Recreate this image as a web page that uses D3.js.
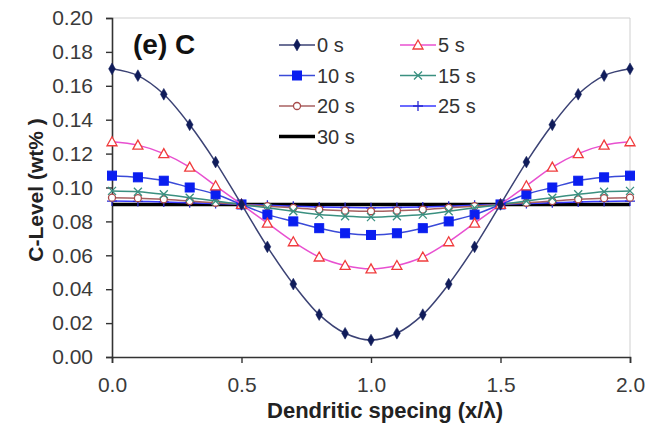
<!DOCTYPE html>
<html>
<head>
<meta charset="utf-8">
<script src="https://cdn.jsdelivr.net/npm/d3@7"></script>
<style>
  body { margin: 0; background: #fff; }
  svg { display: block; font-family: Arial, "Liberation Sans", sans-serif; }
</style>
</head>
<body>
<div id="chart"></div>
<script>
// data
const xValues = [0.0, 0.1, 0.2, 0.3, 0.4, 0.5, 0.6, 0.7, 0.8, 0.9, 1.0,
                 1.1, 1.2, 1.3, 1.4, 1.5, 1.6, 1.7, 1.8, 1.9, 2.0];
const s0  = [0.170, 0.166, 0.155, 0.137, 0.115, 0.090, 0.065, 0.043, 0.025, 0.014, 0.010,
             0.014, 0.025, 0.043, 0.065, 0.090, 0.115, 0.137, 0.155, 0.166, 0.170];
const s5  = [0.127, 0.125, 0.120, 0.112, 0.101, 0.090, 0.079, 0.068, 0.059, 0.054, 0.052,
             0.054, 0.059, 0.068, 0.079, 0.090, 0.101, 0.112, 0.120, 0.125, 0.127];
const s10 = [0.107, 0.106, 0.104, 0.100, 0.096, 0.090, 0.084, 0.080, 0.076, 0.073, 0.072,
             0.073, 0.076, 0.080, 0.084, 0.090, 0.096, 0.100, 0.104, 0.106, 0.107];
const s15 = [0.098, 0.0975, 0.096, 0.094, 0.092, 0.090, 0.088, 0.086, 0.084, 0.083, 0.0825,
             0.083, 0.084, 0.086, 0.088, 0.090, 0.092, 0.094, 0.096, 0.0975, 0.098];
const s20 = [0.094, 0.0937, 0.093, 0.092, 0.091, 0.090, 0.089, 0.088, 0.087, 0.0863, 0.086,
             0.0863, 0.087, 0.088, 0.089, 0.090, 0.091, 0.092, 0.093, 0.0937, 0.094];
const s25 = [0.092, 0.0918, 0.0915, 0.091, 0.0905, 0.090, 0.0895, 0.089, 0.0885, 0.0882, 0.088,
             0.0882, 0.0885, 0.089, 0.0895, 0.090, 0.0905, 0.091, 0.0915, 0.0918, 0.092];
const s30 = [0.090, 0.090, 0.090, 0.090, 0.090, 0.090, 0.090, 0.090, 0.090, 0.090, 0.090,
             0.090, 0.090, 0.090, 0.090, 0.090, 0.090, 0.090, 0.090, 0.090, 0.090];

const seriesNames = ["0 s", "5 s", "10 s", "15 s", "20 s", "25 s", "30 s"];
const seriesValues = [s0, s5, s10, s15, s20, s25, s30];

const xTicks = [0, 0.5, 1.0, 1.5, 2.0];
const yTicks = [0, 0.02, 0.04, 0.06, 0.08, 0.10, 0.12, 0.14, 0.16, 0.18, 0.20];

// styling per series (marker type, colours)
const styles = [
  { line: "#3b4274", marker: "diamond",  fill: "#101c5a", stroke: "#101c5a", width: 1.5 },
  { line: "#e850d0", marker: "triangle", fill: "#fff",    stroke: "#f03c3c", width: 1.5 },
  { line: "#3a4ad8", marker: "square",   fill: "#0a1ef0", stroke: "#0a1ef0", width: 1.5 },
  { line: "#3a9080", marker: "cross",    fill: "none",    stroke: "#3a9080", width: 1.5 },
  { line: "#a86060", marker: "circle",   fill: "#fff",    stroke: "#a84a4a", width: 1.5 },
  { line: "#3a3aff", marker: "plus",     fill: "none",    stroke: "#2a2ad0", width: 1.5 },
  { line: "#000",    marker: null,       fill: "none",    stroke: "#000",    width: 3.5 }
];

const W = 656, H = 429;
const margin = { top: 18, right: 26, bottom: 72, left: 112 };
const width = W - margin.left - margin.right;
const height = H - margin.top - margin.bottom;

const svg = d3.select("#chart").append("svg")
    .attr("width", W)
    .attr("height", H);

const g = svg.append("g")
    .attr("transform", `translate(${margin.left},${margin.top})`);

const x = d3.scaleLinear().domain([0, 2]).range([0, width]);
const y = d3.scaleLinear().domain([0, 0.2]).range([height, 0]);

// light plot-area frame (top and right)
g.append("path")
    .attr("d", `M0,0H${width}V${height}`)
    .attr("fill", "none")
    .attr("stroke", "#cfcfcf")
    .attr("stroke-width", 1);

// axes
const xAxis = g.append("g")
    .attr("transform", `translate(0,${height})`)
    .call(d3.axisBottom(x).tickValues(xTicks).tickFormat(d3.format(".1f")).tickSizeOuter(0).tickSize(6));
const yAxis = g.append("g")
    .call(d3.axisLeft(y).tickValues(yTicks).tickFormat(d3.format(".2f")).tickSizeOuter(0).tickSize(6));

[xAxis, yAxis].forEach(a => {
  a.select(".domain").attr("stroke", "#333").attr("stroke-width", 1.6);
  a.selectAll(".tick line").attr("stroke", "#333").attr("stroke-width", 1.4);
  a.selectAll(".tick text")
      .attr("fill", "#3a3a3a")
      .style("font-size", "21px")
      .style("font-family", "Arial, 'Liberation Sans', sans-serif");
});
xAxis.selectAll(".tick text").attr("y", 20).attr("dy", "0.71em");
yAxis.selectAll(".tick text").attr("x", -19);

// axis titles
svg.append("text")
    .attr("x", 385)
    .attr("y", 418)
    .attr("text-anchor", "middle")
    .attr("font-weight", "bold")
    .attr("font-size", "22px")
    .attr("fill", "#222")
    .text("Dendritic specing (x/λ)");

svg.append("text")
    .attr("transform", `translate(43,190) rotate(-90)`)
    .attr("text-anchor", "middle")
    .attr("font-weight", "bold")
    .attr("font-size", "21px")
    .attr("fill", "#222")
    .text("C-Level (wt% )");

// panel label
svg.append("text")
    .attr("x", 133)
    .attr("y", 54)
    .attr("font-weight", "bold")
    .attr("font-size", "28px")
    .attr("fill", "#111")
    .text("(e) C");

// marker drawing helper
function drawMarker(sel, type, st) {
  if (type === "diamond") {
    sel.append("path").attr("d", d3.symbol(d3.symbolDiamond, 40)())
      .attr("fill", st.fill).attr("stroke", st.stroke).attr("stroke-width", 0.5);
  } else if (type === "square") {
    sel.append("rect").attr("x", -4.5).attr("y", -4.5).attr("width", 9).attr("height", 9)
      .attr("fill", st.fill).attr("stroke", st.stroke);
  } else if (type === "triangle") {
    sel.append("path").attr("d", "M0,-5L5,4H-5Z")
      .attr("fill", st.fill).attr("stroke", st.stroke).attr("stroke-width", 1.3);
  } else if (type === "cross") {
    sel.append("path").attr("d", "M-4,-4L4,4M-4,4L4,-4")
      .attr("stroke", st.stroke).attr("stroke-width", 1.3);
  } else if (type === "circle") {
    sel.append("circle").attr("r", 3.5)
      .attr("fill", st.fill).attr("stroke", st.stroke).attr("stroke-width", 1.3);
  } else if (type === "plus") {
    sel.append("path").attr("d", "M-5,0H5M0,-5V5")
      .attr("stroke", st.stroke).attr("stroke-width", 1.3);
  }
}

const lineGen = d3.line()
    .x(d => x(d[0]))
    .y(d => y(d[1]))
    .curve(d3.curveCatmullRom.alpha(0.5));

// draw series in reverse order so 0 s ends up on top
const order = [6, 5, 4, 3, 2, 1, 0];
order.forEach(i => {
  const pts = xValues.map((xv, k) => [xv, seriesValues[i][k]]);
  const st = styles[i];
  g.append("path")
      .datum(pts)
      .attr("fill", "none")
      .attr("stroke", st.line)
      .attr("stroke-width", st.width)
      .attr("d", lineGen);
  if (st.marker) {
    g.append("g").selectAll("g")
      .data(pts)
      .join("g")
      .attr("transform", d => `translate(${x(d[0])},${y(d[1])})`)
      .each(function () { drawMarker(d3.select(this), st.marker, st); });
  }
});

// legend
const legX = [279, 400];
const legY0 = 45, legDy = 30.5;
const legend = svg.append("g");
seriesNames.forEach((name, i) => {
  const col = i % 2, row = Math.floor(i / 2);
  const st = styles[i];
  const lg = legend.append("g")
      .attr("transform", `translate(${legX[col]},${legY0 + row * legDy})`);
  lg.append("line")
      .attr("x1", 0).attr("x2", 36)
      .attr("stroke", st.line)
      .attr("stroke-width", st.width);
  if (st.marker) {
    const m = lg.append("g").attr("transform", "translate(18,0)");
    drawMarker(m, st.marker, st);
  }
  lg.append("text")
      .attr("x", 38)
      .attr("y", 0)
      .attr("dy", "0.35em")
      .attr("font-size", "20px")
      .attr("fill", "#333")
      .text(name);
});
</script>
</body>
</html>
